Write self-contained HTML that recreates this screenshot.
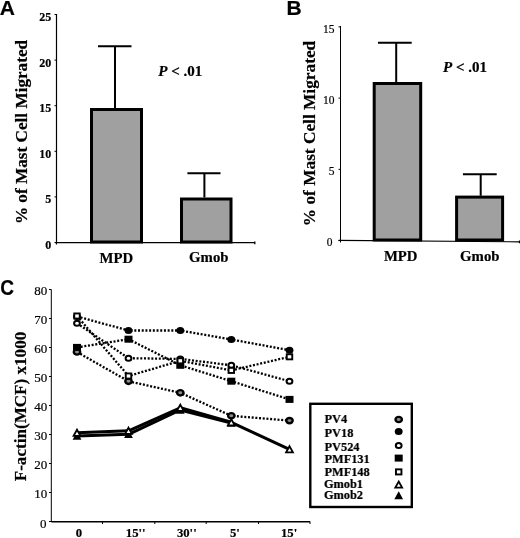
<!DOCTYPE html><html><head><meta charset="utf-8"><style>html,body{margin:0;padding:0;background:#fff;width:520px;height:538px;overflow:hidden}svg{display:block;filter:grayscale(1)}text{stroke:#000;stroke-width:0.2px}</style></head><body>
<svg width="520" height="538" viewBox="0 0 520 538">
<text x="-0.3" y="15.0" font-family='"Liberation Sans", sans-serif' font-size="21" font-weight="bold" font-style="normal" text-anchor="start" >A</text>
<line x1="56.5" y1="14" x2="56.5" y2="244.5" stroke="#000" stroke-width="1.2" />
<line x1="55" y1="242.6" x2="255" y2="242.6" stroke="#000" stroke-width="1.3" />
<line x1="254.8" y1="241.5" x2="254.8" y2="244.3" stroke="#000" stroke-width="1.3" />
<line x1="54.5" y1="242.5" x2="56.5" y2="242.5" stroke="#000" stroke-width="1" />
<text x="51.3" y="248.9" font-family='"Liberation Serif", serif' font-size="12" font-weight="bold" font-style="normal" text-anchor="end" >0</text>
<line x1="54.5" y1="196.9" x2="56.5" y2="196.9" stroke="#000" stroke-width="1" />
<text x="51.3" y="203.3" font-family='"Liberation Serif", serif' font-size="12" font-weight="bold" font-style="normal" text-anchor="end" >5</text>
<line x1="54.5" y1="151.3" x2="56.5" y2="151.3" stroke="#000" stroke-width="1" />
<text x="51.3" y="157.70000000000002" font-family='"Liberation Serif", serif' font-size="12" font-weight="bold" font-style="normal" text-anchor="end" >10</text>
<line x1="54.5" y1="105.70000000000002" x2="56.5" y2="105.70000000000002" stroke="#000" stroke-width="1" />
<text x="51.3" y="112.10000000000002" font-family='"Liberation Serif", serif' font-size="12" font-weight="bold" font-style="normal" text-anchor="end" >15</text>
<line x1="54.5" y1="60.10000000000002" x2="56.5" y2="60.10000000000002" stroke="#000" stroke-width="1" />
<text x="51.3" y="66.50000000000003" font-family='"Liberation Serif", serif' font-size="12" font-weight="bold" font-style="normal" text-anchor="end" >20</text>
<line x1="54.5" y1="14.500000000000028" x2="56.5" y2="14.500000000000028" stroke="#000" stroke-width="1" />
<text x="51.3" y="20.900000000000027" font-family='"Liberation Serif", serif' font-size="12" font-weight="bold" font-style="normal" text-anchor="end" >25</text>
<rect x="91.5" y="109.5" width="50" height="132.5" fill="#a0a0a0" stroke="#000" stroke-width="3"/>
<line x1="115" y1="46.2" x2="115" y2="108" stroke="#000" stroke-width="2" />
<line x1="98" y1="46.2" x2="131.5" y2="46.2" stroke="#000" stroke-width="2" />
<rect x="181.5" y="199.0" width="49.5" height="43.0" fill="#a0a0a0" stroke="#000" stroke-width="3"/>
<line x1="204.4" y1="173.3" x2="204.4" y2="197.5" stroke="#000" stroke-width="2" />
<line x1="187.4" y1="173.3" x2="220.5" y2="173.3" stroke="#000" stroke-width="2" />
<text x="0" y="0" font-family='"Liberation Serif", serif' font-size="14" font-weight="bold" font-style="normal" text-anchor="middle"  transform="translate(116.4,262.7) scale(1.055,1)">MPD</text>
<text x="0" y="0" font-family='"Liberation Serif", serif' font-size="14" font-weight="bold" font-style="normal" text-anchor="middle"  transform="translate(208.8,262.3) scale(1.055,1)">Gmob</text>
<text transform="translate(158.2,76.3) scale(1.075,1)" font-family='"Liberation Serif", serif' font-size="14" font-weight="bold"><tspan font-style="italic">P</tspan> &lt; .01</text>
<text x="0" y="0" font-family='"Liberation Serif", serif' font-size="17.2" font-weight="bold" font-style="normal" text-anchor="middle" transform="translate(27.1,132) scale(1.02,1) rotate(-90)">% of Mast Cell Migrated</text>
<text x="286.5" y="14.7" font-family='"Liberation Sans", sans-serif' font-size="21" font-weight="bold" font-style="normal" text-anchor="start" >B</text>
<line x1="340.5" y1="26" x2="340.5" y2="242.5" stroke="#000" stroke-width="1" />
<line x1="338.5" y1="240.4" x2="520" y2="241.9" stroke="#000" stroke-width="1.1" />
<line x1="519.5" y1="240.5" x2="519.5" y2="243.2" stroke="#000" stroke-width="1.2" />
<line x1="338.5" y1="240.6" x2="340.5" y2="240.6" stroke="#000" stroke-width="1" />
<text x="332.4" y="245.5" font-family='"Liberation Serif", serif' font-size="11.5" font-weight="normal" font-style="normal" text-anchor="end" >0</text>
<line x1="338.5" y1="169.35" x2="340.5" y2="169.35" stroke="#000" stroke-width="1" />
<text x="334.4" y="175.25" font-family='"Liberation Serif", serif' font-size="11.5" font-weight="normal" font-style="normal" text-anchor="end" >5</text>
<line x1="338.5" y1="98.1" x2="340.5" y2="98.1" stroke="#000" stroke-width="1" />
<text x="334.4" y="104.0" font-family='"Liberation Serif", serif' font-size="11.5" font-weight="normal" font-style="normal" text-anchor="end" >10</text>
<line x1="338.5" y1="26.849999999999994" x2="340.5" y2="26.849999999999994" stroke="#000" stroke-width="1" />
<text x="334.4" y="32.74999999999999" font-family='"Liberation Serif", serif' font-size="11.5" font-weight="normal" font-style="normal" text-anchor="end" >15</text>
<rect x="374.2" y="83.5" width="46.5" height="156.5" fill="#a0a0a0" stroke="#000" stroke-width="3"/>
<line x1="396.2" y1="42.7" x2="396.2" y2="82" stroke="#000" stroke-width="2" />
<line x1="378" y1="42.7" x2="411.7" y2="42.7" stroke="#000" stroke-width="2" />
<rect x="456.6" y="197.1" width="46.0" height="42.900000000000006" fill="#a0a0a0" stroke="#000" stroke-width="3"/>
<line x1="480.7" y1="174.3" x2="480.7" y2="195.8" stroke="#000" stroke-width="2" />
<line x1="462.9" y1="174.3" x2="496.7" y2="174.3" stroke="#000" stroke-width="2" />
<text x="0" y="0" font-family='"Liberation Serif", serif' font-size="14" font-weight="bold" font-style="normal" text-anchor="middle"  transform="translate(400.7,260.8) scale(1.055,1)">MPD</text>
<text x="0" y="0" font-family='"Liberation Serif", serif' font-size="14" font-weight="bold" font-style="normal" text-anchor="middle"  transform="translate(479.8,261.2) scale(1.055,1)">Gmob</text>
<text transform="translate(443,72.2) scale(1.075,1)" font-family='"Liberation Serif", serif' font-size="14" font-weight="bold"><tspan font-style="italic">P</tspan> &lt; .01</text>
<text x="0" y="0" font-family='"Liberation Serif", serif' font-size="17.3" font-weight="bold" font-style="normal" text-anchor="middle" transform="translate(314.9,133.5) scale(1.02,1) rotate(-90)">% of Mast Cell Migrated</text>
<text transform="translate(0.2,295.0) scale(0.91,1.05)" font-family='"Liberation Sans", sans-serif' font-size="21" font-weight="bold">C</text>
<line x1="51.3" y1="289.5" x2="51.3" y2="522" stroke="#000" stroke-width="1" />
<line x1="51.3" y1="521.7" x2="310" y2="521.7" stroke="#000" stroke-width="1.4" />
<line x1="102.5" y1="521.5" x2="102.5" y2="524" stroke="#000" stroke-width="1" />
<line x1="154.8" y1="521.5" x2="154.8" y2="524" stroke="#000" stroke-width="1" />
<line x1="206.2" y1="521.5" x2="206.2" y2="524" stroke="#000" stroke-width="1" />
<line x1="258.5" y1="521.5" x2="258.5" y2="524" stroke="#000" stroke-width="1" />
<line x1="310" y1="521.5" x2="310" y2="524" stroke="#000" stroke-width="1" />
<line x1="49" y1="521.5" x2="51.3" y2="521.5" stroke="#000" stroke-width="1" />
<text x="46.4" y="528.1" font-family='"Liberation Serif", serif' font-size="13" font-weight="normal" font-style="normal" text-anchor="end" >0</text>
<line x1="49" y1="492.5" x2="51.3" y2="492.5" stroke="#000" stroke-width="1" />
<text x="47.3" y="497.8" font-family='"Liberation Serif", serif' font-size="13" font-weight="normal" font-style="normal" text-anchor="end" >10</text>
<line x1="49" y1="463.5" x2="51.3" y2="463.5" stroke="#000" stroke-width="1" />
<text x="47.3" y="468.8" font-family='"Liberation Serif", serif' font-size="13" font-weight="normal" font-style="normal" text-anchor="end" >20</text>
<line x1="49" y1="434.5" x2="51.3" y2="434.5" stroke="#000" stroke-width="1" />
<text x="47.3" y="439.8" font-family='"Liberation Serif", serif' font-size="13" font-weight="normal" font-style="normal" text-anchor="end" >30</text>
<line x1="49" y1="405.5" x2="51.3" y2="405.5" stroke="#000" stroke-width="1" />
<text x="47.3" y="410.8" font-family='"Liberation Serif", serif' font-size="13" font-weight="normal" font-style="normal" text-anchor="end" >40</text>
<line x1="49" y1="376.5" x2="51.3" y2="376.5" stroke="#000" stroke-width="1" />
<text x="47.3" y="381.8" font-family='"Liberation Serif", serif' font-size="13" font-weight="normal" font-style="normal" text-anchor="end" >50</text>
<line x1="49" y1="347.5" x2="51.3" y2="347.5" stroke="#000" stroke-width="1" />
<text x="47.3" y="352.8" font-family='"Liberation Serif", serif' font-size="13" font-weight="normal" font-style="normal" text-anchor="end" >60</text>
<line x1="49" y1="318.5" x2="51.3" y2="318.5" stroke="#000" stroke-width="1" />
<text x="47.3" y="323.8" font-family='"Liberation Serif", serif' font-size="13" font-weight="normal" font-style="normal" text-anchor="end" >70</text>
<line x1="49" y1="289.5" x2="51.3" y2="289.5" stroke="#000" stroke-width="1" />
<text x="47.3" y="294.8" font-family='"Liberation Serif", serif' font-size="13" font-weight="normal" font-style="normal" text-anchor="end" >80</text>
<text x="0" y="0" font-family='"Liberation Serif", serif' font-size="12" font-weight="bold" font-style="normal" text-anchor="middle"  transform="translate(79.0,537.3) scale(1.06,1)">0</text>
<text x="0" y="0" font-family='"Liberation Serif", serif' font-size="12" font-weight="bold" font-style="normal" text-anchor="start"  transform="translate(125.8,537.3) scale(1.06,1)">15''</text>
<text x="0" y="0" font-family='"Liberation Serif", serif' font-size="12" font-weight="bold" font-style="normal" text-anchor="start"  transform="translate(176.9,537.3) scale(1.06,1)">30''</text>
<text x="0" y="0" font-family='"Liberation Serif", serif' font-size="12" font-weight="bold" font-style="normal" text-anchor="start"  transform="translate(230.0,537.3) scale(1.06,1)">5'</text>
<text x="0" y="0" font-family='"Liberation Serif", serif' font-size="12" font-weight="bold" font-style="normal" text-anchor="start"  transform="translate(281.0,537.3) scale(1.06,1)">15'</text>
<text x="0" y="0" font-family='"Liberation Serif", serif' font-size="17.1" font-weight="bold" font-style="normal" text-anchor="middle" transform="translate(26.0,406.5) scale(1.02,1) rotate(-90)">F-actin(MCF) x1000</text>
<polyline points="77,352.0 128.5,381.3 180.3,392.8 231.3,415.8 289.5,420.6" fill="none" stroke="#000" stroke-width="2.3" stroke-dasharray="2 1.7"/>
<polyline points="77,316.5 128.5,330.5 180.3,330.5 231.3,339.5 289.5,350.2" fill="none" stroke="#000" stroke-width="2.3" stroke-dasharray="2 1.7"/>
<polyline points="77,323.3 128.5,358.2 180.3,358.9 231.3,365.3 289.5,381.2" fill="none" stroke="#000" stroke-width="2.3" stroke-dasharray="2 1.7"/>
<polyline points="77,347.4 128.5,339.2 180.3,365.3 231.3,381.2 289.5,399.4" fill="none" stroke="#000" stroke-width="2.3" stroke-dasharray="2 1.7"/>
<polyline points="77,316.0 128.5,376.0 180.3,360.8 231.3,370.4 289.5,356.8" fill="none" stroke="#000" stroke-width="2.3" stroke-dasharray="2 1.7"/>
<polyline points="77,432.8 128.5,430.8 180.3,407.8 231.3,422.3 289.5,449.3" fill="none" stroke="#000" stroke-width="3" stroke-linejoin="round"/>
<polyline points="77,436.0 128.5,434.3 180.3,410.0 231.3,423.0" fill="none" stroke="#000" stroke-width="3" stroke-linejoin="round"/>
<ellipse cx="77" cy="352.0" rx="3.20" ry="2.65" fill="#8c8c8c" stroke="#000" stroke-width="2.40"/>
<ellipse cx="128.5" cy="381.3" rx="3.20" ry="2.65" fill="#8c8c8c" stroke="#000" stroke-width="2.40"/>
<ellipse cx="180.3" cy="392.8" rx="3.20" ry="2.65" fill="#8c8c8c" stroke="#000" stroke-width="2.40"/>
<ellipse cx="231.3" cy="415.8" rx="3.20" ry="2.65" fill="#8c8c8c" stroke="#000" stroke-width="2.40"/>
<ellipse cx="289.5" cy="420.6" rx="3.20" ry="2.65" fill="#8c8c8c" stroke="#000" stroke-width="2.40"/>
<ellipse cx="77" cy="316.5" rx="3.95" ry="3.50" fill="#000"/>
<ellipse cx="128.5" cy="330.5" rx="3.95" ry="3.50" fill="#000"/>
<ellipse cx="180.3" cy="330.5" rx="3.95" ry="3.50" fill="#000"/>
<ellipse cx="231.3" cy="339.5" rx="3.95" ry="3.50" fill="#000"/>
<ellipse cx="289.5" cy="350.2" rx="3.95" ry="3.50" fill="#000"/>
<ellipse cx="77" cy="323.3" rx="2.90" ry="2.50" fill="#fff" stroke="#000" stroke-width="2.00"/>
<ellipse cx="128.5" cy="358.2" rx="2.90" ry="2.50" fill="#fff" stroke="#000" stroke-width="2.00"/>
<ellipse cx="180.3" cy="358.9" rx="2.90" ry="2.50" fill="#fff" stroke="#000" stroke-width="2.00"/>
<ellipse cx="231.3" cy="365.3" rx="2.90" ry="2.50" fill="#fff" stroke="#000" stroke-width="2.00"/>
<ellipse cx="289.5" cy="381.2" rx="2.90" ry="2.50" fill="#fff" stroke="#000" stroke-width="2.00"/>
<rect x="73.00" y="343.90" width="8.00" height="7.00" fill="#000"/>
<rect x="124.50" y="335.70" width="8.00" height="7.00" fill="#000"/>
<rect x="176.30" y="361.80" width="8.00" height="7.00" fill="#000"/>
<rect x="227.30" y="377.70" width="8.00" height="7.00" fill="#000"/>
<rect x="285.50" y="395.90" width="8.00" height="7.00" fill="#000"/>
<rect x="74.25" y="313.45" width="5.50" height="5.10" fill="#fff" stroke="#000" stroke-width="1.90"/>
<rect x="125.75" y="373.45" width="5.50" height="5.10" fill="#fff" stroke="#000" stroke-width="1.90"/>
<rect x="177.55" y="358.25" width="5.50" height="5.10" fill="#fff" stroke="#000" stroke-width="1.90"/>
<rect x="228.55" y="367.85" width="5.50" height="5.10" fill="#fff" stroke="#000" stroke-width="1.90"/>
<rect x="286.75" y="354.25" width="5.50" height="5.10" fill="#fff" stroke="#000" stroke-width="1.90"/>
<path d="M77.00 431.80 L81.40 439.80 L72.60 439.80 Z" fill="#000"/>
<path d="M128.50 430.10 L132.90 438.10 L124.10 438.10 Z" fill="#000"/>
<path d="M180.30 405.80 L184.70 413.80 L175.90 413.80 Z" fill="#000"/>
<path d="M231.30 418.80 L235.70 426.80 L226.90 426.80 Z" fill="#000"/>
<path d="M77.00 429.70 L80.40 435.80 L73.60 435.80 Z" fill="#fff" stroke="#000" stroke-width="1.80" stroke-linejoin="miter"/>
<path d="M128.50 427.70 L131.90 433.80 L125.10 433.80 Z" fill="#fff" stroke="#000" stroke-width="1.80" stroke-linejoin="miter"/>
<path d="M180.30 404.70 L183.70 410.80 L176.90 410.80 Z" fill="#fff" stroke="#000" stroke-width="1.80" stroke-linejoin="miter"/>
<path d="M231.30 419.20 L234.70 425.30 L227.90 425.30 Z" fill="#fff" stroke="#000" stroke-width="1.80" stroke-linejoin="miter"/>
<path d="M289.50 446.20 L292.90 452.30 L286.10 452.30 Z" fill="#fff" stroke="#000" stroke-width="1.80" stroke-linejoin="miter"/>
<rect x="310.3" y="403.8" width="101.5" height="103.2" fill="#fff" stroke="#000" stroke-width="2.4"/>
<text x="324.6" y="422.8" font-family='"Liberation Serif", serif' font-size="12.3" font-weight="bold" font-style="normal" text-anchor="start" >PV4</text>
<ellipse cx="398.7" cy="419.5" rx="3.20" ry="2.65" fill="#8c8c8c" stroke="#000" stroke-width="2.40"/>
<text x="324.6" y="436.9" font-family='"Liberation Serif", serif' font-size="12.3" font-weight="bold" font-style="normal" text-anchor="start" >PV18</text>
<ellipse cx="398.7" cy="431.5" rx="3.95" ry="3.50" fill="#000"/>
<text x="324.6" y="451.3" font-family='"Liberation Serif", serif' font-size="12.3" font-weight="bold" font-style="normal" text-anchor="start" >PV524</text>
<ellipse cx="398.7" cy="445.4" rx="2.90" ry="2.50" fill="#fff" stroke="#000" stroke-width="2.00"/>
<text x="324.6" y="462.7" font-family='"Liberation Serif", serif' font-size="12.3" font-weight="bold" font-style="normal" text-anchor="start" >PMF131</text>
<rect x="394.70" y="454.60" width="8.00" height="7.00" fill="#000"/>
<text x="324.6" y="475.6" font-family='"Liberation Serif", serif' font-size="12.3" font-weight="bold" font-style="normal" text-anchor="start" >PMF148</text>
<rect x="395.95" y="469.35" width="5.50" height="5.10" fill="#fff" stroke="#000" stroke-width="1.90"/>
<text x="324.0" y="488" font-family='"Liberation Serif", serif' font-size="12.3" font-weight="bold" font-style="normal" text-anchor="start" >Gmob1</text>
<path d="M398.70 481.50 L402.10 487.60 L395.30 487.60 Z" fill="#fff" stroke="#000" stroke-width="1.80" stroke-linejoin="miter"/>
<text x="324.0" y="498.8" font-family='"Liberation Serif", serif' font-size="12.3" font-weight="bold" font-style="normal" text-anchor="start" >Gmob2</text>
<path d="M398.70 491.20 L403.10 499.20 L394.30 499.20 Z" fill="#000"/>
</svg></body></html>
